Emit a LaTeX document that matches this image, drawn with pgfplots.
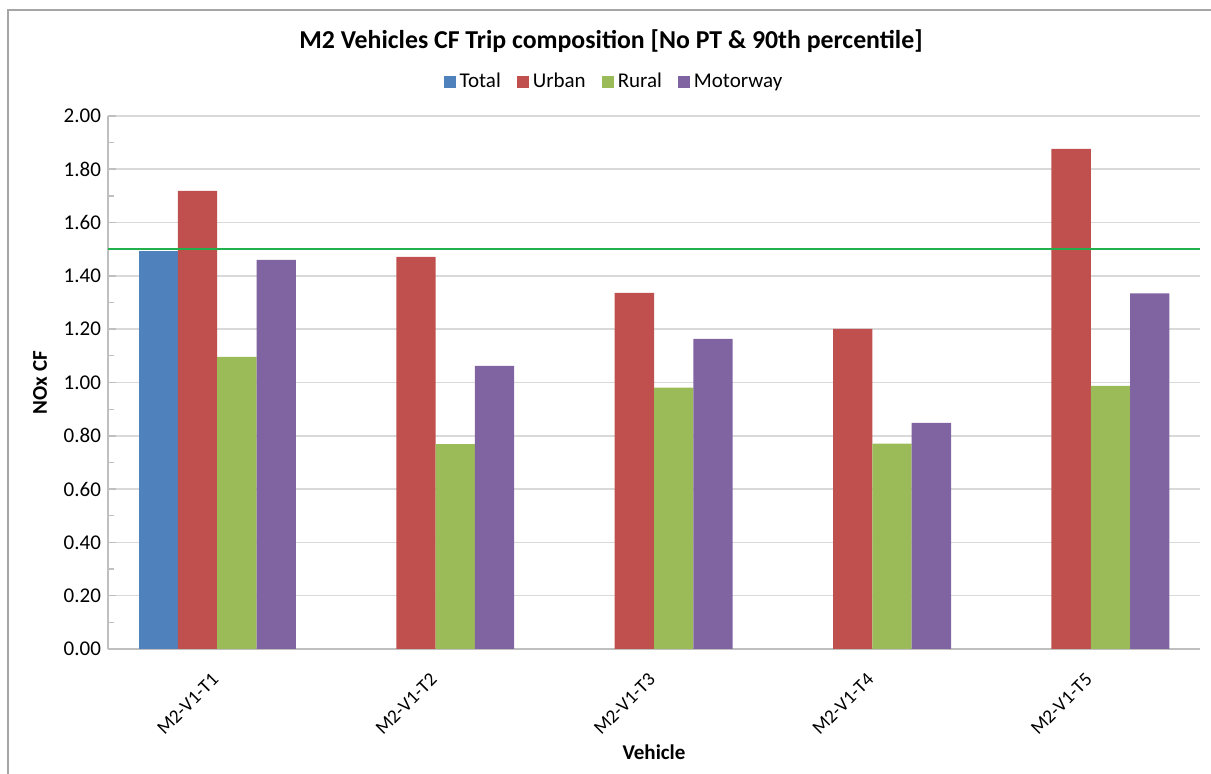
\documentclass[border=0pt]{standalone}
\usepackage{pgfplots}
\pgfplotsset{compat=1.18}
\usepackage{fontspec}
\setmainfont{Carlito}
\definecolor{cTotal}{HTML}{4F81BD}
\definecolor{cUrban}{HTML}{C0504D}
\definecolor{cRural}{HTML}{9BBB59}
\definecolor{cMotor}{HTML}{8064A2}
\definecolor{cLimit}{HTML}{22B04C}
\definecolor{cGrid}{HTML}{D9D9D9}
\definecolor{cAxis}{HTML}{BFBFBF}
\begin{document}
\begin{tikzpicture}
\begin{axis}[
  scale only axis,
  width=546pt, height=266.5pt,
  xmin=-0.5, xmax=4.5,
  ymin=0, ymax=2,
  ybar, bar width=0.18,
  xtick={0,1,2,3,4},
  xticklabels={M2-V1-T1,M2-V1-T2,M2-V1-T3,M2-V1-T4,M2-V1-T5},
  xticklabel style={xshift=1.5pt, yshift=-7.25pt, rotate=45, anchor=east, font=\fontsize{9.6}{11}\selectfont},
  x tick style={draw=none},
  ytick={0,0.2,...,2.0},
  minor y tick num=1,
  yticklabel style={font=\fontsize{10.5}{12}\selectfont},
  /pgf/number format/assume math mode=true,
  yticklabel={\pgfmathprintnumber[fixed,fixed zerofill,precision=2]{\tick}},
  ymajorgrids,
  grid style={cGrid, line width=0.8pt},
  major y tick style={cAxis, line width=0.8pt},
  minor y tick style={cAxis, line width=0.6pt},
  major tick length=4pt, minor tick length=3pt,
  ytick pos=left,
  axis x line*=bottom,
  axis y line*=left,
  axis line style={cAxis, line width=0.8pt},
  separate axis lines,
  x axis line style={-},
  y axis line style={-},
  xlabel={\textbf{Vehicle}},
  ylabel={\textbf{NOx CF}},
  label style={font=\fontsize{10.5}{12}\selectfont},
  xlabel style={at={(0.5,0)}, anchor=center, yshift=-51.5pt},
  ylabel style={at={(-0.0623,0.5)}, anchor=center},
  title={M2 Vehicles CF Trip composition [No PT \& 90th percentile]},
  title style={at={(0.4606,1.118)}, anchor=center, yshift=0pt, font=\bfseries\fontsize{12.9}{15}\selectfont},
  legend columns=4,
  legend style={at={(0.4643,1.064)}, anchor=center, draw=none, fill=none,
    font=\fontsize{10.5}{12}\selectfont,
    /tikz/every even column/.append style={column sep=6pt}},
  legend image code/.code={\fill[#1] (0pt,-3pt) rectangle (6pt,3pt);},
  clip=false,
]
\addplot[fill=cTotal, draw=none, bar shift=-0.27] coordinates {(0,1.495)};
\addplot[fill=cUrban, draw=none, bar shift=-0.09] coordinates {(0,1.719) (1,1.471) (2,1.336) (3,1.201) (4,1.877)};
\addplot[fill=cRural, draw=none, bar shift=0.09] coordinates {(0,1.096) (1,0.769) (2,0.981) (3,0.771) (4,0.987)};
\addplot[fill=cMotor, draw=none, bar shift=0.27] coordinates {(0,1.460) (1,1.062) (2,1.164) (3,0.848) (4,1.334)};
\legend{Total,Urban,Rural,Motorway}
\addplot[sharp plot, cLimit, line width=1.2pt, forget plot] coordinates {(-0.5,1.5) (4.5,1.5)};
\end{axis}
\pgfresetboundingbox
\useasboundingbox (-54pt,-62.5pt) rectangle (551.5pt,324.5pt);
\draw[gray!70, line width=0.8pt] (-50pt,-62.5pt) -- (-50pt,319.5pt) -- (551.5pt,319.5pt);
\end{tikzpicture}
\end{document}
